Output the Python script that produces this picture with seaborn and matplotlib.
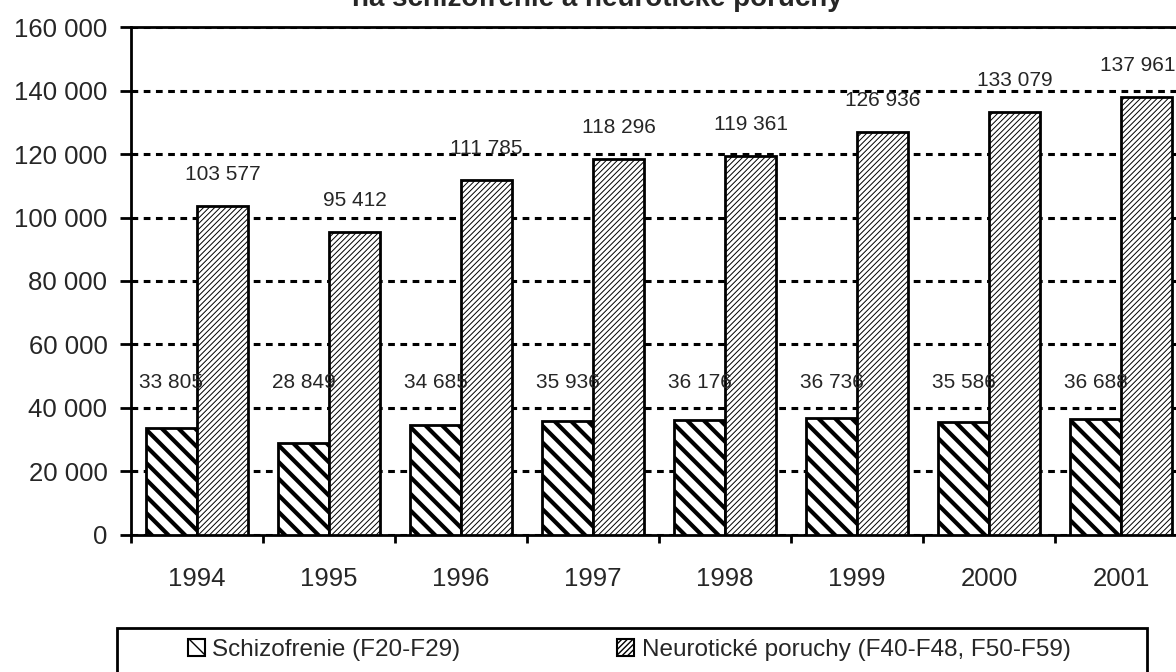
import matplotlib
matplotlib.use("Agg")
import matplotlib.pyplot as plt
import matplotlib.patches as mpatches
import seaborn as sns
import pandas as pd

years = ["1994", "1995", "1996", "1997", "1998", "1999", "2000", "2001"]
schizo = [33805, 28849, 34685, 35936, 36176, 36736, 35586, 36688]
neurot = [103577, 95412, 111785, 118296, 119361, 126936, 133079, 137961]
series_names = ["Schizofrenie (F20-F29)", "Neurotické poruchy (F40-F48, F50-F59)"]
yticks = [0, 20000, 40000, 60000, 80000, 100000, 120000, 140000, 160000]
title_line = "na schizofrenie a neurotické poruchy"

sns.set_theme(style="white")
plt.rcParams["font.family"] = ["Liberation Sans", "DejaVu Sans"]

df = pd.DataFrame({
    "year": years * 2,
    "value": schizo + neurot,
    "group": [series_names[0]] * len(years) + [series_names[1]] * len(years),
})

fig = plt.figure(figsize=(11.76, 6.72), dpi=100)
ax = fig.add_axes([0.1114, 0.2039, 0.898, 0.7559])

sns.barplot(data=df, x="year", y="value", hue="group", hue_order=series_names,
            order=years, palette=["white", "white"], width=0.773, gap=0,
            edgecolor="black", linewidth=2.0, legend=False, ax=ax, zorder=3)

hatches = ["\\\\", "//////"]
hlw = [3.0, 0.7]
for cont, h, lw in zip(ax.containers, hatches, hlw):
    for p in cont:
        p.set_hatch(h)
        if hasattr(p, "set_hatch_linewidth"):
            p.set_hatch_linewidth(lw)

def fmt(v):
    return f"{v:,}".replace(",", " ")

# labels
for i, p in enumerate(ax.containers[0]):
    cx = p.get_x() + p.get_width() / 2
    ax.text(cx, 48000, fmt(schizo[i]), ha="center", va="center", fontsize=15, zorder=5)
n_last = len(neurot) - 1
for i, p in enumerate(ax.containers[1]):
    cx = p.get_x() + p.get_width() / 2
    dx = -6 if i == n_last else 0
    ax.annotate(fmt(neurot[i]), (cx, p.get_height()), xytext=(dx, 16),
                textcoords="offset points", ha="center", va="bottom", fontsize=15)

ax.set_ylim(0, 160000)
ax.set_xlim(-0.5, 7.5)
ax.set_yticks(yticks)
ax.set_yticklabels([fmt(v) for v in yticks], fontsize=18.5)
ax.set_xticks([i - 0.5 for i in range(len(years) + 1)])
ax.set_xticklabels([])
ax.set_xticks(range(len(years)), minor=True)
ax.set_xticklabels(years, minor=True, fontsize=18.5)
ax.tick_params(axis="x", which="major", direction="out", length=6, width=2, color="black", bottom=True)
ax.tick_params(axis="x", which="minor", length=0, pad=23)
ax.tick_params(axis="y", direction="out", length=8, width=2, color="black", pad=9, left=True)
ax.set_xlabel("")
ax.set_ylabel("")

ax.yaxis.grid(True, linestyle=(0, (2.2, 1.8)), color="black", linewidth=2.2)
ax.set_axisbelow(True)
for side in ["left", "top", "bottom"]:
    ax.spines[side].set_visible(True)
    ax.spines[side].set_color("black")
    ax.spines[side].set_linewidth(2)
ax.spines["right"].set_visible(False)

fig.text(0.508, 0.991, title_line, ha="center", va="baseline", fontsize=20, fontweight="bold")

# legend frame
fig.patches.append(mpatches.Rectangle((0.0995, -0.05), 0.8755, 0.1155, transform=fig.transFigure,
                                      facecolor="white", edgecolor="black", linewidth=2, zorder=0))
h1 = mpatches.Patch(facecolor="white", edgecolor="black", hatch="\\\\", linewidth=1.5, label=series_names[0])
h2 = mpatches.Patch(facecolor="white", edgecolor="black", hatch="//////", linewidth=1.5, label=series_names[1])
for h, x in [(h1, 0.160), (h2, 0.525)]:
    fig.legend(handles=[h], loc="center left", bbox_to_anchor=(x, 0.033), frameon=False,
               fontsize=17.5, borderpad=0, borderaxespad=0, handlelength=0.7, handleheight=0.7,
               handletextpad=0.3)

fig.savefig("out.png", dpi=100)
